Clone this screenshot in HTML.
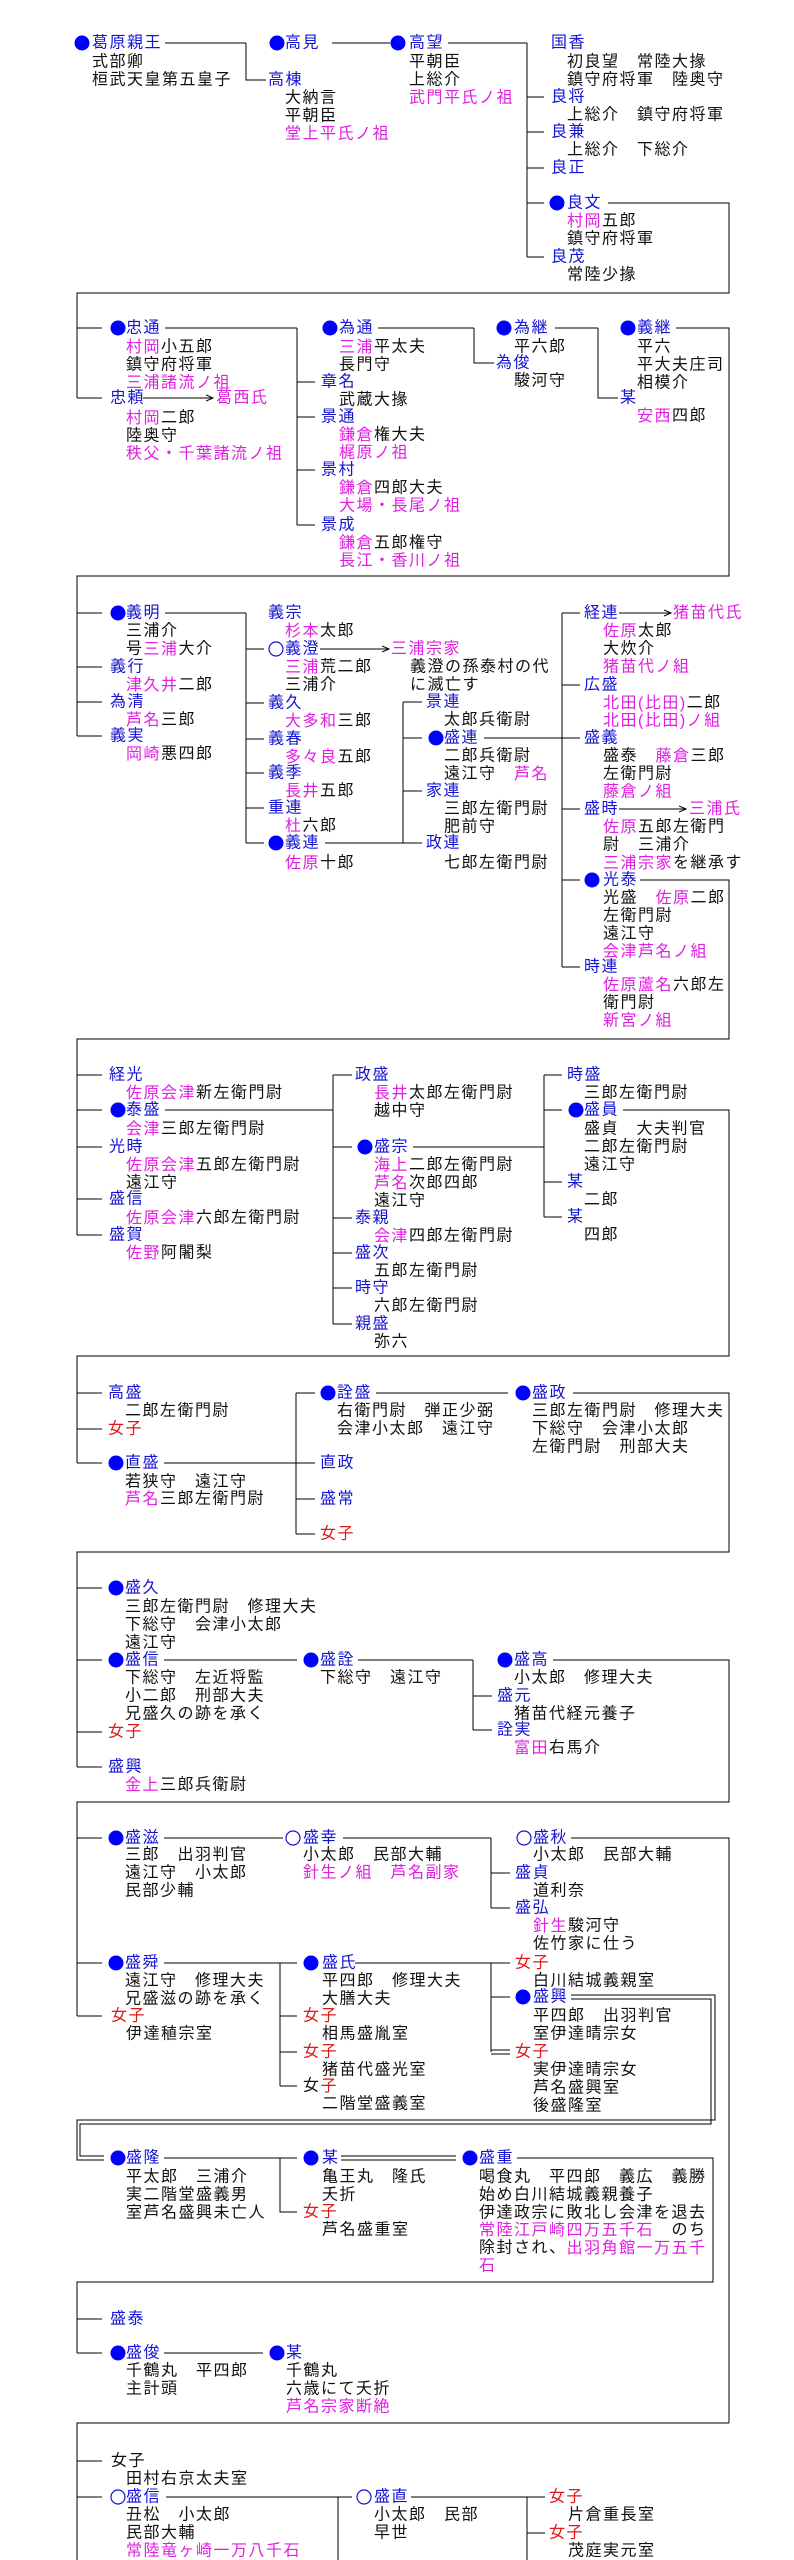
<!DOCTYPE html>
<html><head><meta charset="utf-8"><style>
html,body{margin:0;padding:0;background:#fff;}
svg{display:block;}
text{font-family:"Liberation Sans","Noto Sans CJK JP",sans-serif;font-size:16px;letter-spacing:1.5px;dominant-baseline:central;fill:#111;}
.b{fill:#1414d2;} .m{fill:#e020e0;} .r{fill:#e01818;}
line,polyline{stroke:#000;stroke-width:1;fill:none;}
.d{fill:#0000ff;} .o{fill:none;stroke:#1414d2;stroke-width:1.2;}
</style></head><body>
<svg width="794" height="2560" viewBox="0 0 794 2560" xmlns="http://www.w3.org/2000/svg">
<defs><marker id="ar" markerWidth="8" markerHeight="8" refX="7" refY="4" orient="auto" markerUnits="userSpaceOnUse"><path d="M0,1 L7,4 L0,7" fill="none" stroke="#000"/></marker></defs>

<!-- Section 1 -->
<circle class="d" cx="82" cy="43" r="7.5"/><text class="b" x="92" y="43">葛原親王</text>
<text x="92" y="62">式部卿</text><text x="92" y="80">桓武天皇第五皇子</text>
<polyline points="165,43 246,43"/><polyline points="246,43 246,80 266,80"/>
<circle class="d" cx="277" cy="43" r="7.5"/><text class="b" x="285" y="43">高見</text>
<text class="b" x="268" y="80">高棟</text><text x="285" y="98">大納言</text><text x="285" y="116">平朝臣</text><text class="m" x="285" y="134">堂上平氏ノ祖</text>
<line x1="332" y1="43" x2="390" y2="43"/>
<circle class="d" cx="398" cy="43" r="7.5"/><text class="b" x="409" y="43">高望</text>
<text x="409" y="62">平朝臣</text><text x="409" y="80">上総介</text><text class="m" x="409" y="98">武門平氏ノ祖</text>
<line x1="448" y1="43" x2="527" y2="43"/><line x1="527" y1="43" x2="527" y2="257"/>
<line x1="527" y1="97" x2="544" y2="97"/><line x1="527" y1="132" x2="544" y2="132"/><line x1="527" y1="168" x2="544" y2="168"/><line x1="527" y1="203" x2="544" y2="203"/><line x1="527" y1="257" x2="544" y2="257"/>
<text class="b" x="551" y="43">国香</text><text x="567" y="62">初良望　常陸大掾</text><text x="567" y="80">鎮守府将軍　陸奥守</text>
<text class="b" x="551" y="97">良将</text><text x="567" y="115">上総介　鎮守府将軍</text>
<text class="b" x="551" y="132">良兼</text><text x="567" y="150">上総介　下総介</text>
<text class="b" x="551" y="168">良正</text>
<circle class="d" cx="557" cy="203" r="7.5"/><text class="b" x="567" y="203">良文</text>
<text x="567" y="221"><tspan class="m">村岡</tspan>五郎</text><text x="567" y="239">鎮守府将軍</text>
<text class="b" x="551" y="257">良茂</text><text x="567" y="275">常陸少掾</text>
<polyline points="608,203 729,203 729,293 77,293 77,398"/>

<!-- Section 2 -->
<line x1="77" y1="328" x2="102" y2="328"/><line x1="77" y1="398" x2="102" y2="398"/>
<circle class="d" cx="118" cy="328" r="7.5"/><text class="b" x="126" y="328">忠通</text>
<text x="126" y="347"><tspan class="m">村岡</tspan>小五郎</text><text x="126" y="365">鎮守府将軍</text><text class="m" x="126" y="383">三浦諸流ノ祖</text>
<text class="b" x="110" y="398">忠頼</text><line x1="143" y1="398" x2="213" y2="398" marker-end="url(#ar)"/><text class="m" x="216" y="398">葛西氏</text>
<text x="126" y="418"><tspan class="m">村岡</tspan>二郎</text><text x="126" y="436">陸奥守</text><text class="m" x="126" y="454">秩父・千葉諸流ノ祖</text>
<line x1="165" y1="328" x2="297" y2="328"/><line x1="297" y1="328" x2="297" y2="525"/>
<line x1="297" y1="382" x2="315" y2="382"/><line x1="297" y1="417" x2="315" y2="417"/><line x1="297" y1="470" x2="315" y2="470"/><line x1="297" y1="525" x2="315" y2="525"/>
<circle class="d" cx="330" cy="328" r="7.5"/><text class="b" x="339" y="328">為通</text>
<text x="339" y="347"><tspan class="m">三浦</tspan>平太夫</text><text x="339" y="365">長門守</text>
<text class="b" x="321" y="382">章名</text><text x="339" y="400">武蔵大掾</text>
<text class="b" x="321" y="417">景通</text><text x="339" y="435"><tspan class="m">鎌倉</tspan>権大夫</text><text class="m" x="339" y="453">梶原ノ祖</text>
<text class="b" x="321" y="470">景村</text><text x="339" y="488"><tspan class="m">鎌倉</tspan>四郎大夫</text><text class="m" x="339" y="506">大場・長尾ノ祖</text>
<text class="b" x="321" y="525">景成</text><text x="339" y="543"><tspan class="m">鎌倉</tspan>五郎権守</text><text class="m" x="339" y="561">長江・香川ノ祖</text>
<line x1="378" y1="328" x2="474" y2="328"/><polyline points="474,328 474,363 494,363"/>
<circle class="d" cx="504" cy="328" r="7.5"/><text class="b" x="514" y="328">為継</text><text x="514" y="347">平六郎</text>
<text class="b" x="496" y="363">為俊</text><text x="514" y="381">駿河守</text>
<line x1="555" y1="328" x2="598" y2="328"/><polyline points="598,328 598,398 618,398"/>
<circle class="d" cx="628" cy="328" r="7.5"/><text class="b" x="637" y="328">義継</text>
<text x="637" y="347">平六</text><text x="637" y="365">平大夫庄司</text><text x="637" y="383">相模介</text>
<text class="b" x="620" y="398">某</text><text x="637" y="416"><tspan class="m">安西</tspan>四郎</text>
<polyline points="676,328 729,328 729,576 77,576 77,736"/>

<!-- Section 3 -->
<line x1="77" y1="613" x2="102" y2="613"/><line x1="77" y1="667" x2="102" y2="667"/><line x1="77" y1="702" x2="102" y2="702"/><line x1="77" y1="736" x2="102" y2="736"/>
<circle class="d" cx="118" cy="613" r="7.5"/><text class="b" x="126" y="613">義明</text>
<text x="126" y="631">三浦介</text><text x="126" y="649">号<tspan class="m">三浦</tspan>大介</text>
<text class="b" x="110" y="667">義行</text><text x="126" y="685"><tspan class="m">津久井</tspan>二郎</text>
<text class="b" x="110" y="702">為清</text><text x="126" y="720"><tspan class="m">芦名</tspan>三郎</text>
<text class="b" x="110" y="736">義実</text><text x="126" y="754"><tspan class="m">岡崎</tspan>悪四郎</text>
<line x1="165" y1="613" x2="246" y2="613"/><line x1="246" y1="613" x2="246" y2="843"/>
<line x1="246" y1="649" x2="264" y2="649"/><line x1="246" y1="703" x2="264" y2="703"/><line x1="246" y1="739" x2="264" y2="739"/><line x1="246" y1="773" x2="264" y2="773"/><line x1="246" y1="808" x2="264" y2="808"/><line x1="246" y1="843" x2="264" y2="843"/>
<text class="b" x="268" y="613">義宗</text><text x="285" y="631"><tspan class="m">杉本</tspan>太郎</text>
<circle class="o" cx="276" cy="649" r="7"/><text class="b" x="285" y="649">義澄</text>
<line x1="320" y1="649" x2="389" y2="649" marker-end="url(#ar)"/><text class="m" x="391" y="649">三浦宗家</text>
<text x="285" y="667"><tspan class="m">三浦</tspan>荒二郎</text><text x="285" y="685">三浦介</text>
<text x="410" y="667">義澄の孫泰村の代</text><text x="410" y="685">に滅亡す</text>
<text class="b" x="268" y="703">義久</text><text x="285" y="721"><tspan class="m">大多和</tspan>三郎</text>
<text class="b" x="268" y="739">義春</text><text x="285" y="757"><tspan class="m">多々良</tspan>五郎</text>
<text class="b" x="268" y="773">義季</text><text x="285" y="791"><tspan class="m">長井</tspan>五郎</text>
<text class="b" x="268" y="808">重連</text><text x="285" y="826"><tspan class="m">杜</tspan>六郎</text>
<circle class="d" cx="276" cy="843" r="7.5"/><text class="b" x="285" y="843">義連</text><text x="285" y="863"><tspan class="m">佐原</tspan>十郎</text>
<line x1="325" y1="843" x2="403" y2="843"/><line x1="403" y1="702" x2="403" y2="843"/>
<line x1="403" y1="702" x2="422" y2="702"/><line x1="403" y1="738" x2="422" y2="738"/><line x1="403" y1="791" x2="422" y2="791"/><line x1="403" y1="843" x2="422" y2="843"/>
<text class="b" x="426" y="702">景連</text><text x="444" y="720">太郎兵衛尉</text>
<circle class="d" cx="436" cy="738" r="7.5"/><text class="b" x="444" y="738">盛連</text>
<text x="444" y="756">二郎兵衛尉</text><text x="444" y="774">遠江守　<tspan class="m">芦名</tspan></text>
<text class="b" x="426" y="791">家連</text><text x="444" y="809">三郎左衛門尉</text><text x="444" y="827">肥前守</text>
<text class="b" x="426" y="843">政連</text><text x="444" y="863">七郎左衛門尉</text>
<line x1="484" y1="738" x2="562" y2="738"/><line x1="562" y1="613" x2="562" y2="967"/>
<line x1="562" y1="613" x2="580" y2="613"/><line x1="562" y1="685" x2="580" y2="685"/><line x1="562" y1="738" x2="580" y2="738"/><line x1="562" y1="809" x2="580" y2="809"/><line x1="562" y1="880" x2="580" y2="880"/><line x1="562" y1="967" x2="580" y2="967"/>
<text class="b" x="584" y="613">経連</text><line x1="619" y1="613" x2="671" y2="613" marker-end="url(#ar)"/><text class="m" x="673" y="613">猪苗代氏</text>
<text x="603" y="631"><tspan class="m">佐原</tspan>太郎</text><text x="603" y="649">大炊介</text><text class="m" x="603" y="667">猪苗代ノ組</text>
<text class="b" x="584" y="685">広盛</text><text x="603" y="703"><tspan class="m">北田(比田)</tspan>二郎</text><text class="m" x="603" y="721">北田(比田)ノ組</text>
<text class="b" x="584" y="738">盛義</text><text x="603" y="756">盛泰　<tspan class="m">藤倉</tspan>三郎</text><text x="603" y="774">左衛門尉</text><text class="m" x="603" y="792">藤倉ノ組</text>
<text class="b" x="584" y="809">盛時</text><line x1="619" y1="809" x2="686" y2="809" marker-end="url(#ar)"/><text class="m" x="689" y="809">三浦氏</text>
<text x="603" y="827"><tspan class="m">佐原</tspan>五郎左衛門</text><text x="603" y="845">尉　三浦介</text><text x="603" y="863"><tspan class="m">三浦宗家</tspan>を継承す</text>
<circle class="d" cx="592" cy="880" r="7.5"/><text class="b" x="603" y="880">光泰</text>
<text x="603" y="898">光盛　<tspan class="m">佐原</tspan>二郎</text><text x="603" y="916">左衛門尉</text><text x="603" y="934">遠江守</text><text class="m" x="603" y="952">会津芦名ノ組</text>
<text class="b" x="584" y="967">時連</text><text x="603" y="985"><tspan class="m">佐原蘆名</tspan>六郎左</text><text x="603" y="1003">衛門尉</text><text class="m" x="603" y="1021">新宮ノ組</text>
<polyline points="640,880 729,880 729,1039 77,1039 77,1235"/>

<!-- Section 4 -->
<line x1="77" y1="1075" x2="102" y2="1075"/><line x1="77" y1="1110" x2="102" y2="1110"/><line x1="77" y1="1147" x2="102" y2="1147"/><line x1="77" y1="1199" x2="102" y2="1199"/><line x1="77" y1="1235" x2="102" y2="1235"/>
<text class="b" x="109" y="1075">経光</text><text x="126" y="1093"><tspan class="m">佐原会津</tspan>新左衛門尉</text>
<circle class="d" cx="118" cy="1110" r="7.5"/><text class="b" x="126" y="1110">泰盛</text><text x="126" y="1129"><tspan class="m">会津</tspan>三郎左衛門尉</text>
<text class="b" x="109" y="1147">光時</text><text x="126" y="1165"><tspan class="m">佐原会津</tspan>五郎左衛門尉</text><text x="126" y="1183">遠江守</text>
<text class="b" x="109" y="1199">盛信</text><text x="126" y="1218"><tspan class="m">佐原会津</tspan>六郎左衛門尉</text>
<text class="b" x="109" y="1235">盛賀</text><text x="126" y="1253"><tspan class="m">佐野</tspan>阿闍梨</text>
<line x1="165" y1="1110" x2="333" y2="1110"/><line x1="333" y1="1075" x2="333" y2="1324"/>
<line x1="333" y1="1075" x2="352" y2="1075"/><line x1="333" y1="1147" x2="352" y2="1147"/><line x1="333" y1="1218" x2="352" y2="1218"/><line x1="333" y1="1253" x2="352" y2="1253"/><line x1="333" y1="1288" x2="352" y2="1288"/><line x1="333" y1="1324" x2="352" y2="1324"/>
<text class="b" x="355" y="1075">政盛</text><text x="374" y="1093"><tspan class="m">長井</tspan>太郎左衛門尉</text><text x="374" y="1111">越中守</text>
<circle class="d" cx="365" cy="1147" r="7.5"/><text class="b" x="374" y="1147">盛宗</text>
<text x="374" y="1165"><tspan class="m">海上</tspan>二郎左衛門尉</text><text x="374" y="1183"><tspan class="m">芦名</tspan>次郎四郎</text><text x="374" y="1201">遠江守</text>
<text class="b" x="355" y="1218">泰親</text><text x="374" y="1236"><tspan class="m">会津</tspan>四郎左衛門尉</text>
<text class="b" x="355" y="1253">盛次</text><text x="374" y="1271">五郎左衛門尉</text>
<text class="b" x="355" y="1288">時守</text><text x="374" y="1306">六郎左衛門尉</text>
<text class="b" x="355" y="1324">親盛</text><text x="374" y="1342">弥六</text>
<line x1="413" y1="1147" x2="544" y2="1147"/><line x1="544" y1="1075" x2="544" y2="1217"/>
<line x1="544" y1="1075" x2="562" y2="1075"/><line x1="544" y1="1110" x2="562" y2="1110"/><line x1="544" y1="1182" x2="562" y2="1182"/><line x1="544" y1="1217" x2="562" y2="1217"/>
<text class="b" x="567" y="1075">時盛</text><text x="584" y="1093">三郎左衛門尉</text>
<circle class="d" cx="576" cy="1110" r="7.5"/><text class="b" x="584" y="1110">盛員</text>
<text x="584" y="1129">盛貞　大夫判官</text><text x="584" y="1147">二郎左衛門尉</text><text x="584" y="1165">遠江守</text>
<text class="b" x="567" y="1182">某</text><text x="584" y="1200">二郎</text>
<text class="b" x="567" y="1217">某</text><text x="584" y="1235">四郎</text>
<polyline points="623,1110 729,1110 729,1356 77,1356 77,1463"/>

<!-- Section 5 -->
<line x1="77" y1="1393" x2="102" y2="1393"/><line x1="77" y1="1429" x2="102" y2="1429"/><line x1="77" y1="1463" x2="102" y2="1463"/>
<text class="b" x="108" y="1393">高盛</text><text x="125" y="1411">二郎左衛門尉</text>
<text class="r" x="108" y="1429">女子</text>
<circle class="d" cx="116" cy="1463" r="7.5"/><text class="b" x="125" y="1463">直盛</text>
<text x="125" y="1482">若狭守　遠江守</text><text x="125" y="1499"><tspan class="m">芦名</tspan>三郎左衛門尉</text>
<line x1="164" y1="1463" x2="296" y2="1463"/><line x1="296" y1="1393" x2="296" y2="1534"/>
<line x1="296" y1="1393" x2="315" y2="1393"/><line x1="296" y1="1463" x2="315" y2="1463"/><line x1="296" y1="1499" x2="315" y2="1499"/><line x1="296" y1="1534" x2="315" y2="1534"/>
<circle class="d" cx="328" cy="1393" r="7.5"/><text class="b" x="337" y="1393">詮盛</text>
<text x="337" y="1411">右衛門尉　弾正少弼</text><text x="337" y="1429">会津小太郎　遠江守</text>
<text class="b" x="320" y="1463">直政</text><text class="b" x="320" y="1499">盛常</text><text class="r" x="320" y="1534">女子</text>
<line x1="376" y1="1393" x2="508" y2="1393"/>
<circle class="d" cx="523" cy="1393" r="7.5"/><text class="b" x="532" y="1393">盛政</text>
<text x="532" y="1411">三郎左衛門尉　修理大夫</text><text x="532" y="1429">下総守　会津小太郎</text><text x="532" y="1447">左衛門尉　刑部大夫</text>
<polyline points="573,1393 729,1393 729,1552 77,1552 77,1767"/>

<!-- Section 6 -->
<line x1="77" y1="1588" x2="102" y2="1588"/><line x1="77" y1="1660" x2="102" y2="1660"/><line x1="77" y1="1732" x2="102" y2="1732"/><line x1="77" y1="1767" x2="102" y2="1767"/>
<circle class="d" cx="116" cy="1588" r="7.5"/><text class="b" x="125" y="1588">盛久</text>
<text x="125" y="1607">三郎左衛門尉　修理大夫</text><text x="125" y="1625">下総守　会津小太郎</text><text x="125" y="1643">遠江守</text>
<circle class="d" cx="116" cy="1660" r="7.5"/><text class="b" x="125" y="1660">盛信</text>
<text x="125" y="1678">下総守　左近将監</text><text x="125" y="1696">小二郎　刑部大夫</text><text x="125" y="1714">兄盛久の跡を承く</text>
<text class="r" x="108" y="1732">女子</text>
<text class="b" x="108" y="1767">盛興</text><text x="125" y="1785"><tspan class="m">金上</tspan>三郎兵衛尉</text>
<line x1="164" y1="1660" x2="297" y2="1660"/>
<circle class="d" cx="311" cy="1660" r="7.5"/><text class="b" x="320" y="1660">盛詮</text><text x="320" y="1678">下総守　遠江守</text>
<line x1="358" y1="1660" x2="473" y2="1660"/><line x1="473" y1="1660" x2="473" y2="1730"/>
<line x1="473" y1="1696" x2="492" y2="1696"/><line x1="473" y1="1730" x2="492" y2="1730"/>
<circle class="d" cx="505" cy="1660" r="7.5"/><text class="b" x="514" y="1660">盛高</text><text x="514" y="1678">小太郎　修理大夫</text>
<text class="b" x="497" y="1696">盛元</text><text x="514" y="1714">猪苗代経元養子</text>
<text class="b" x="497" y="1730">詮実</text><text x="514" y="1748"><tspan class="m">富田</tspan>右馬介</text>
<polyline points="553,1660 729,1660 729,1802 77,1802 77,2016"/>

<!-- Section 7 -->
<line x1="77" y1="1838" x2="102" y2="1838"/><line x1="77" y1="1963" x2="102" y2="1963"/><line x1="77" y1="2016" x2="102" y2="2016"/>
<circle class="d" cx="116" cy="1838" r="7.5"/><text class="b" x="125" y="1838">盛滋</text>
<text x="125" y="1855">三郎　出羽判官</text><text x="125" y="1873">遠江守　小太郎</text><text x="125" y="1891">民部少輔</text>
<line x1="164" y1="1838" x2="283" y2="1838"/>
<circle class="o" cx="293" cy="1838" r="7"/><text class="b" x="303" y="1838">盛幸</text>
<text x="303" y="1855">小太郎　民部大輔</text><text class="m" x="303" y="1873">針生ノ組　芦名副家</text>
<line x1="343" y1="1838" x2="491" y2="1838"/><line x1="491" y1="1838" x2="491" y2="1908"/>
<line x1="491" y1="1873" x2="510" y2="1873"/><line x1="491" y1="1908" x2="510" y2="1908"/>
<circle class="o" cx="524" cy="1838" r="7"/><text class="b" x="533" y="1838">盛秋</text><text x="533" y="1855">小太郎　民部大輔</text>
<text class="b" x="515" y="1873">盛貞</text><text x="533" y="1891">道利奈</text>
<text class="b" x="515" y="1908">盛弘</text><text x="533" y="1926"><tspan class="m">針生</tspan>駿河守</text><text x="533" y="1944">佐竹家に仕う</text>
<polyline points="571,1838 729,1838 729,2423"/>
<circle class="d" cx="116" cy="1963" r="7.5"/><text class="b" x="125" y="1963">盛舜</text>
<text x="125" y="1981">遠江守　修理大夫</text><text x="125" y="1999">兄盛滋の跡を承く</text>
<text class="r" x="111" y="2016">女子</text><text x="126" y="2034">伊達稙宗室</text>
<line x1="164" y1="1963" x2="297" y2="1963"/><line x1="280" y1="1963" x2="280" y2="2086"/>
<line x1="280" y1="2016" x2="297" y2="2016"/><line x1="280" y1="2052" x2="297" y2="2052"/><line x1="280" y1="2086" x2="297" y2="2086"/>
<circle class="d" cx="311" cy="1963" r="7.5"/><text class="b" x="322" y="1963">盛氏</text>
<text x="322" y="1981">平四郎　修理大夫</text><text x="322" y="1999">大膳大夫</text>
<text class="r" x="303" y="2016">女子</text><text x="322" y="2034">相馬盛胤室</text>
<text class="r" x="303" y="2052">女子</text><text x="322" y="2070">猪苗代盛光室</text>
<text x="303" y="2086">女<tspan class="r">子</tspan></text><text x="322" y="2104">二階堂盛義室</text>
<line x1="355" y1="1963" x2="491" y2="1963"/><line x1="491" y1="1963" x2="491" y2="2052"/>
<line x1="491" y1="1963" x2="510" y2="1963"/><line x1="491" y1="1997" x2="510" y2="1997"/>
<line x1="491" y1="2050" x2="510" y2="2050"/><line x1="491" y1="2054" x2="510" y2="2054"/>
<text class="r" x="515" y="1963">女子</text><text x="533" y="1981">白川結城義親室</text>
<circle class="d" cx="523" cy="1997" r="7.5"/><text class="b" x="533" y="1997">盛興</text>
<text x="533" y="2016">平四郎　出羽判官</text><text x="533" y="2034">室伊達晴宗女</text>
<text class="r" x="515" y="2052">女子</text><text x="533" y="2070">実伊達晴宗女</text><text x="533" y="2088">芦名盛興室</text><text x="533" y="2106">後盛隆室</text>
<polyline points="571,1995 715,1995 715,2120 77,2120 77,2160 104,2160"/>
<polyline points="571,1999 711,1999 711,2124 80,2124 80,2156 104,2156"/>

<!-- Section 8 -->
<circle class="d" cx="118" cy="2158" r="7.5"/><text class="b" x="126" y="2158">盛隆</text>
<text x="126" y="2177">平太郎　三浦介</text><text x="126" y="2195">実二階堂盛義男</text><text x="126" y="2213">室芦名盛興未亡人</text>
<line x1="164" y1="2158" x2="297" y2="2158"/><polyline points="280,2158 280,2212 297,2212"/>
<circle class="d" cx="311" cy="2158" r="7.5"/><text class="b" x="322" y="2158">某</text>
<text x="322" y="2177">亀王丸　隆氏</text><text x="322" y="2195">夭折</text>
<text class="r" x="303" y="2212">女子</text><text x="322" y="2230">芦名盛重室</text>
<line x1="341" y1="2156" x2="456" y2="2156"/><line x1="341" y1="2160" x2="456" y2="2160"/>
<circle class="d" cx="470" cy="2158" r="7.5"/><text class="b" x="479" y="2158">盛重</text>
<text x="479" y="2177">喝食丸　平四郎　義広　義勝</text><text x="479" y="2195">始め白川結城義親養子</text>
<text x="479" y="2213">伊達政宗に敗北し会津を退去</text>
<text x="479" y="2230"><tspan class="m">常陸江戸崎四万五千石</tspan>　のち</text>
<text x="479" y="2248">除封され、<tspan class="m">出羽角館一万五千</tspan></text>
<text class="m" x="479" y="2266">石</text>
<polyline points="517,2158 713,2158 713,2282 77,2282 77,2353"/>

<!-- Section 9 -->
<line x1="77" y1="2319" x2="102" y2="2319"/><line x1="77" y1="2353" x2="102" y2="2353"/>
<text class="b" x="110" y="2319">盛泰</text>
<circle class="d" cx="118" cy="2353" r="7.5"/><text class="b" x="126" y="2353">盛俊</text>
<text x="126" y="2371">千鶴丸　平四郎</text><text x="126" y="2389">主計頭</text>
<line x1="164" y1="2353" x2="263" y2="2353"/>
<circle class="d" cx="277" cy="2353" r="7.5"/><text class="b" x="286" y="2353">某</text>
<text x="286" y="2371">千鶴丸</text><text x="286" y="2389">六歳にて夭折</text><text class="m" x="286" y="2407">芦名宗家断絶</text>
<polyline points="729,2423 77,2423 77,2560"/>

<!-- Section 10 -->
<line x1="77" y1="2461" x2="102" y2="2461"/><line x1="77" y1="2497" x2="102" y2="2497"/>
<text x="111" y="2461">女子</text><text x="126" y="2479">田村右京太夫室</text>
<circle class="o" cx="118" cy="2497" r="7"/><text class="b" x="126" y="2497">盛信</text>
<text x="126" y="2515">丑松　小太郎</text><text x="126" y="2533">民部大輔</text><text class="m" x="126" y="2551">常陸竜ヶ崎一万八千石</text>
<line x1="166" y1="2497" x2="352" y2="2497"/><line x1="338" y1="2497" x2="338" y2="2560"/>
<circle class="o" cx="364" cy="2497" r="7"/><text class="b" x="374" y="2497">盛直</text>
<text x="374" y="2515">小太郎　民部</text><text x="374" y="2533">早世</text>
<line x1="411" y1="2497" x2="545" y2="2497"/><line x1="527" y1="2497" x2="527" y2="2560"/><line x1="527" y1="2533" x2="545" y2="2533"/>
<text class="r" x="549" y="2497">女子</text><text x="568" y="2515">片倉重長室</text>
<text class="r" x="549" y="2533">女子</text><text x="568" y="2551">茂庭実元室</text>
</svg>
</body></html>
